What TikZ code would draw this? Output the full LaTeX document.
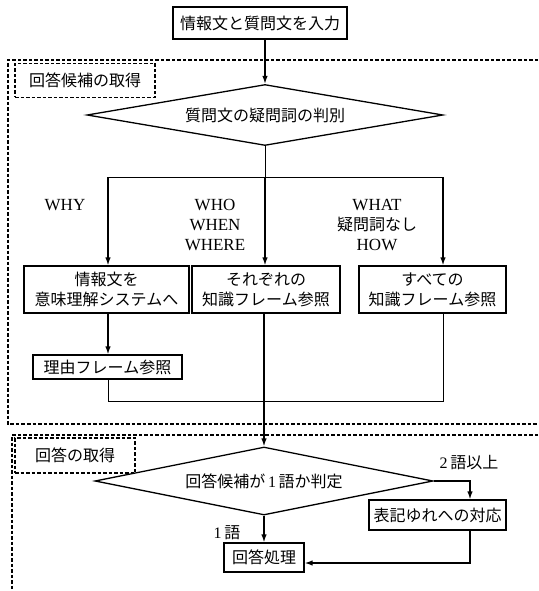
\documentclass[tikz,border=0pt]{standalone}
\usepackage{fontspec}
\setmainfont{Liberation Serif}
\newfontfamily\jp{Noto Sans CJK JP}
\usetikzlibrary{shapes.geometric,arrows.meta}

\begin{document}
\begin{tikzpicture}[x=1pt,y=-1pt,
  box/.style={draw,line width=1.3pt,inner sep=0pt,align=center,font=\jp\fontsize{16}{20}\selectfont},
  decide/.style={draw,diamond,line width=1.3pt,inner sep=0pt,font=\jp\fontsize{16}{20}\selectfont},
  region/.style={line width=1.1pt,dash pattern=on 3.5pt off 2pt},
  stagebox/.style={draw,region,inner sep=0pt,font=\jp\fontsize{16}{20}\selectfont},
  lab/.style={align=center,font=\fontsize{17}{20}\selectfont},
  arr/.style={line width=1.3pt,-{Latex[length=8pt,width=5.5pt]}},
  ln/.style={line width=1pt}]

        \useasboundingbox (0,0) rectangle (538,591);

        % dashed regions
        \draw[region] (538,60) -- (8,60) -- (8,424) -- (538,424);
        \draw[region] (538,435) -- (12,435) -- (12,591);
        \node[stagebox,minimum width=140pt,minimum height=34pt] (stage1) at (85,80.5) {回答候補の取得};
        \node[stagebox,minimum width=120pt,minimum height=35pt] (stage2) at (75,455.5) {回答の取得};

        % upper part
        \node[box,minimum width=174pt,minimum height=32pt] (input) at (260,23) {情報文と質問文を入力};
        \node[decide,aspect=5.8,minimum width=356pt,minimum height=61pt] (kind) at (265,115) {質問文の疑問詞の判別};
        \coordinate (split) at (265,177);
        \coordinate (sa) at (108,177);
        \coordinate (sc) at (443,177);

        \node[lab] (lwhy) at (65,205) {WHY};
        \node[lab] (lwho) at (215,225) {WHO\\WHEN\\WHERE};
        \node[lab] (lwhat) at (377,225) {WHAT\\{\jp\fontsize{16}{20}\selectfont 疑問詞なし}\\HOW};

        \node[box,minimum width=165pt,minimum height=47pt] (why) at (106.5,289.5) {情報文を\\意味理解システムへ};
        \node[box,minimum width=148pt,minimum height=47pt] (each) at (266,289.5) {それぞれの\\知識フレーム参照};
        \node[box,minimum width=147pt,minimum height=47pt] (all) at (432.5,289.5) {すべての\\知識フレーム参照};
        \node[box,minimum width=149pt,minimum height=24pt] (reason) at (107.5,367) {理由フレーム参照};
        \coordinate (join) at (265,401);

        % lower part
        \node[decide,aspect=5,minimum width=338pt,minimum height=68pt] (judge) at (264,481) {回答候補が\,{\rmfamily 1}\,語か判定};
        \node[lab,font=\fontsize{16}{20}\selectfont] (lmany) at (469,463) {2\,{\jp 語以上}};
        \node[box,minimum width=137pt,minimum height=30pt] (variant) at (437.5,515) {表記ゆれへの対応};
        \node[lab,font=\fontsize{16}{20}\selectfont] (lone) at (227,533) {1\,{\jp 語}};
        \node[box,minimum width=80pt,minimum height=29pt] (answer) at (264,557.5) {回答処理};
        \coordinate (turn) at (470,481);
        \coordinate (back) at (470,563);

        % connectors
        \draw[arr] (input.south -| kind.north) -- (kind.north);
        \draw[ln] (kind.south) -- (split);
        \draw[ln] (sa) -- (sc);
        \draw[arr] (sa) -- (sa |- why.north);
        \draw[arr] (split) -- (split |- each.north);
        \draw[arr] (sc) -- (sc |- all.north);
        \draw[arr] (sa |- why.south) -- (sa |- reason.north);
        \draw[ln] (sa |- reason.south) -- (sa |- join) -- (sc |- join) -- (sc |- all.south);
        \draw[arr] (judge.north |- each.south) -- (judge.north);
        \draw[arr] (judge.east) -- (turn) -- (turn |- variant.north);
        \draw[arr] (judge.south) -- (answer.north);
        \draw[arr] (turn |- variant.south) -- (back) -- (back -| answer.east);

\end{tikzpicture}
\end{document}
